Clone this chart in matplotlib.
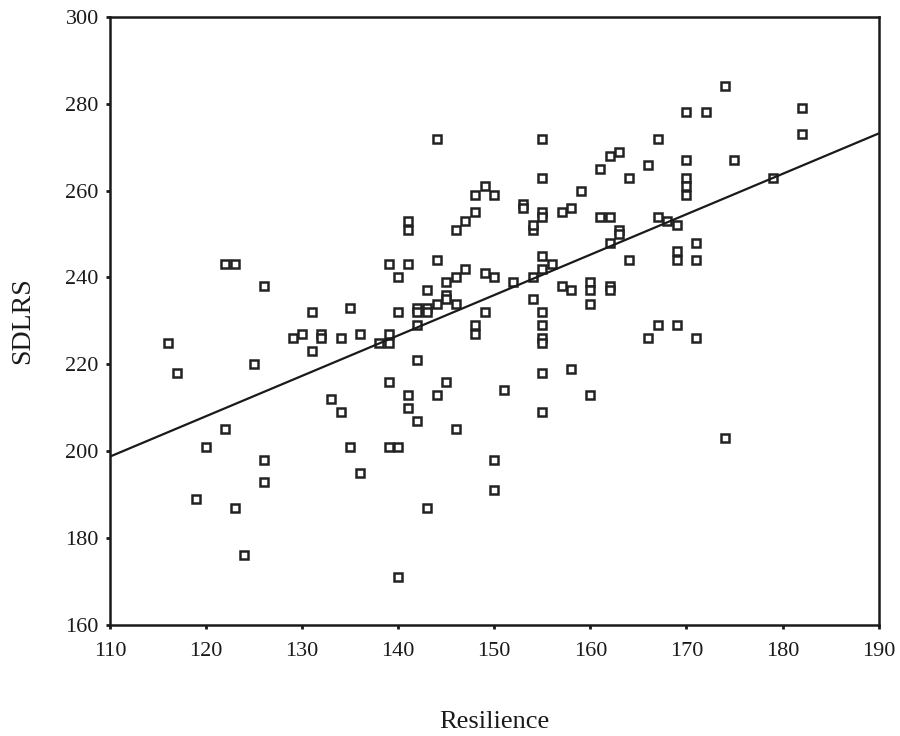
import numpy as np
import matplotlib
matplotlib.use('Agg')
import matplotlib.pyplot as plt

# Resilience (x) y SDLRS (y)
resilience = [116, 117, 119, 120, 122, 122, 123, 123, 124, 125,
              126, 126, 126, 129, 130, 131, 131, 132, 132, 133,
              134, 134, 135, 135, 136, 136, 138, 139, 139, 139,
              139, 139, 140, 140, 140, 140, 141, 141, 141, 141,
              141, 142, 142, 142, 142, 142, 143, 143, 143, 143,
              144, 144, 144, 144, 145, 145, 145, 145, 146, 146,
              146, 146, 147, 147, 148, 148, 148, 148, 149, 149,
              149, 150, 150, 150, 150, 151, 152, 153, 153, 154,
              154, 154, 154, 155, 155, 155, 155, 155, 155, 155,
              155, 155, 155, 155, 155, 156, 157, 157, 158, 158,
              158, 159, 160, 160, 160, 160, 161, 161, 162, 162,
              162, 162, 162, 163, 163, 163, 164, 164, 166, 166,
              167, 167, 167, 168, 169, 169, 169, 169, 170, 170,
              170, 170, 170, 171, 171, 171, 172, 174, 174, 175,
              179, 182, 182]
sdlrs = [225, 218, 189, 201, 205, 243, 243, 187, 176, 220,
         238, 198, 193, 226, 227, 232, 223, 227, 226, 212,
         226, 209, 233, 201, 227, 195, 225, 243, 227, 225,
         216, 201, 240, 232, 201, 171, 253, 251, 243, 213,
         210, 233, 232, 229, 221, 207, 233, 232, 237, 187,
         272, 244, 234, 213, 239, 236, 235, 216, 251, 240,
         234, 205, 253, 242, 259, 255, 229, 227, 261, 241,
         232, 259, 240, 198, 191, 214, 239, 257, 256, 251,
         252, 240, 235, 272, 263, 255, 254, 245, 242, 232,
         229, 226, 225, 218, 209, 243, 255, 238, 256, 237,
         219, 260, 239, 237, 234, 213, 265, 254, 268, 254,
         248, 238, 237, 269, 251, 250, 263, 244, 266, 226,
         272, 254, 229, 253, 252, 246, 244, 229, 278, 267,
         263, 261, 259, 248, 244, 226, 278, 284, 203, 267,
         263, 279, 273]

x_ticks = [110, 120, 130, 140, 150, 160, 170, 180, 190]
y_ticks = [160, 180, 200, 220, 240, 260, 280, 300]

plt.rcParams['font.family'] = ['Liberation Serif', 'DejaVu Serif']

fig = plt.figure(figsize=(9, 7.36), dpi=100)
ax = fig.add_axes([0.1222, 0.151, 0.8540, 0.826])

x = np.array(resilience)
y = np.array(sdlrs)
ax.plot(x, y, linestyle='none', marker='s', markersize=6.2,
        markerfacecolor='white', markeredgecolor='#222222', markeredgewidth=1.8)

# linea de regresion
z = np.polyfit(x, y, 1)
p = np.poly1d(z)
xl = np.array([110, 190])
ax.plot(xl, p(xl), color='#1a1a1a', linewidth=1.6)

ax.set_xlim(110, 190)
ax.set_ylim(160, 300)
ax.set_xticks(x_ticks)
ax.set_yticks(y_ticks)
ax.tick_params(direction='out', length=3, width=2, labelsize=16,
               colors='#1a1a1a')
ax.tick_params(axis='x', pad=9)
ax.tick_params(axis='y', pad=5)
for s in ax.spines.values():
    s.set_linewidth(1.8)
    s.set_color('#1a1a1a')

ax.set_xlabel('Resilience', fontsize=19, labelpad=36, color='#1a1a1a')
ax.set_ylabel('SDLRS', fontsize=20, labelpad=22, color='#1a1a1a')

fig.savefig('out.png', dpi=100)
